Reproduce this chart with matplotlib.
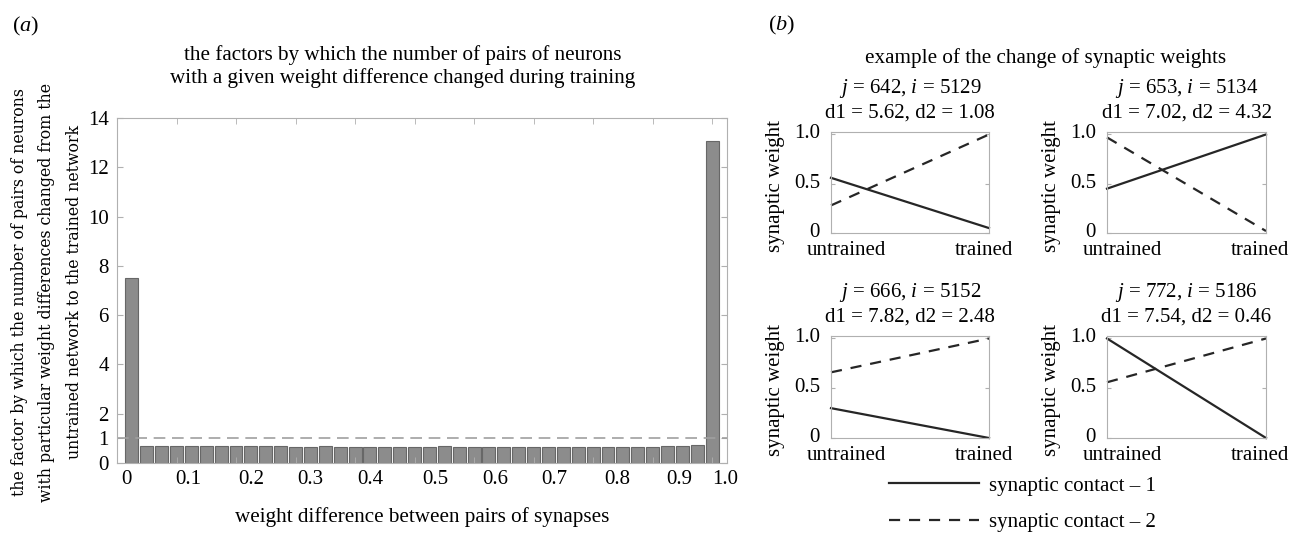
import numpy as np
import matplotlib.pyplot as plt
import matplotlib.transforms as mtransforms

plt.rcParams['font.family'] = 'Liberation Serif'
plt.rcParams['mathtext.fontset'] = 'custom'
plt.rcParams['mathtext.rm'] = 'Liberation Serif'
plt.rcParams['mathtext.it'] = 'Liberation Serif:italic'

# (a) factor per weight-difference bin (40 bins)
bin_idx = np.arange(1, 41)
factor = [7.5,
          0.71, 0.68, 0.68, 0.67, 0.67, 0.67, 0.67, 0.67, 0.67, 0.67,
          0.66, 0.66, 0.67, 0.66, 0.66, 0.65, 0.66, 0.64, 0.66, 0.65,
          0.67, 0.66, 0.66, 0.65, 0.66, 0.65, 0.66, 0.64, 0.65, 0.65,
          0.65, 0.64, 0.65, 0.65, 0.66, 0.68, 0.69, 0.73,
          13.05]
yticks_a = [0, 1, 2, 4, 6, 8, 10, 12, 14]
xlab_pos = [0.66, 4.8, 9.0, 13.0, 17.0, 21.4, 25.4, 29.4, 33.6, 37.8, 40.9]
xlab_txt = ['0', '0.1', '0.2', '0.3', '0.4', '0.5', '0.6', '0.7', '0.8', '0.9', '1.0']

# (b) example weights: untrained -> trained
stages = [0, 1]
examples = [
    (r'$j$ = 642, $i$ = 5129', 'd1 = 5.62, d2 = 1.08', [0.56, 0.05], [0.28, 1.0]),
    (r'$j$ = 653, $i$ = 5134', 'd1 = 7.02, d2 = 4.32', [0.45, 1.0], [0.97, 0.02]),
    (r'$j$ = 666, $i$ = 5152', 'd1 = 7.82, d2 = 2.48', [0.30, 0.0], [0.66, 1.0]),
    (r'$j$ = 772, $i$ = 5186', 'd1 = 7.54, d2 = 0.46', [1.0, 0.0], [0.56, 1.0]),
]

W, H = 1294, 533
fig = plt.figure(figsize=(W / 100, H / 100), dpi=100)


def box(x0, y0, x1, y1):
    # pixel box -> figure fraction
    return [x0 / W, 1 - y1 / H, (x1 - x0) / W, (y1 - y0) / H]


spine_col = '#b0b0b0'
line_col = '#262626'

# ---- panel (a)
ax = fig.add_axes(box(117, 118, 727, 463))
ax.bar(bin_idx, factor, width=0.87, color='#8c8c8c', edgecolor='#676767', linewidth=0.8)
ax.axhline(1, color='#a0a0a0', lw=1.2, dashes=(7, 4))
ax.set_xlim(0, 41)
ax.set_ylim(0, 14)
ax.set_yticks(yticks_a)
ax.set_xticks(xlab_pos, xlab_txt)
ax.set_xticks(np.arange(4, 41, 4), minor=True)
ax.tick_params(axis='x', which='major', length=0, pad=5, labelsize=15)
ax.tick_params(axis='x', which='minor', direction='in', top=True, bottom=True, length=4, color=spine_col)
ax.tick_params(axis='y', direction='in', left=True, right=True, length=4, color=spine_col, pad=6, labelsize=15)
for s in ax.spines.values():
    s.set_color(spine_col)

fig.text(12 / W, 1 - 26 / H, r'($a$)', fontsize=16, ha='left', va='center')
fig.text(403 / W, 1 - 55 / H, 'the factors by which the number of pairs of neurons',
         fontsize=15.2, ha='center', va='center')
fig.text(403 / W, 1 - 78 / H, 'with a given weight difference changed during training',
         fontsize=15.2, ha='center', va='center')
fig.text(422 / W, 1 - 517 / H, 'weight difference between pairs of synapses',
         fontsize=15.2, ha='center', va='center')
fig.text(47 / W, 1 - 292 / H,
         'the factor by which the number of pairs of neurons\n'
         'with particular weight differences changed from the\n'
         'untrained network to the trained network',
         family='DejaVu Serif', fontsize=11.3, rotation=90, ha='center', va='center',
         multialignment='center', linespacing=1.8)

# ---- panel (b)
fig.text(768 / W, 1 - 25 / H, r'($b$)', fontsize=16, ha='left', va='center')
fig.text(1046 / W, 1 - 58 / H, 'example of the change of synaptic weights',
         fontsize=15.2, ha='center', va='center')

cols = [(831, 989), (1107, 1266)]
rows = [(132, 233), (336, 438)]
lift = mtransforms.ScaledTranslation(0, 3 / 100, fig.dpi_scale_trans)
handles = []
for k, (t1, t2, w1, w2) in enumerate(examples):
    x0, x1 = cols[k % 2]
    y0, y1 = rows[k // 2]
    sa = fig.add_axes(box(x0, y0, x1, y1))
    h1, = sa.plot(stages, w1, color=line_col, lw=1.6, clip_on=False)
    h2, = sa.plot(stages, w2, color=line_col, lw=1.6, dashes=(5, 4), clip_on=False)
    handles = [h1, h2]
    sa.set_xlim(0, 1)
    sa.set_ylim(0, 1.025)
    sa.set_yticks([0, 0.5, 1.0], ['0', '0.5', '1.0'])
    sa.set_xticks([0.1, 0.965], ['untrained', 'trained'])
    sa.tick_params(axis='x', length=0, pad=6, labelsize=15)
    sa.tick_params(axis='y', direction='in', left=True, right=True, length=3,
                   color=spine_col, pad=8, labelsize=15)
    for lab in sa.get_yticklabels():
        lab.set_transform(lab.get_transform() + lift)
    for s in sa.spines.values():
        s.set_color(spine_col)
    sa.set_ylabel('synaptic weight', fontsize=15)
    sa.yaxis.set_label_coords(-0.29, 0.47)
    cx = (x0 + x1) / 2
    fig.text(cx / W, 1 - (y0 - 43) / H, t1, fontsize=15, ha='center', va='center')
    fig.text(cx / W, 1 - (y0 - 19) / H, t2, fontsize=15, ha='center', va='center')

fig.legend(handles, ['synaptic contact \u2013 1', 'synaptic contact \u2013 2'],
           loc='upper left', bbox_to_anchor=(889 / W, 1 - 476 / H), frameon=False,
           borderpad=0, borderaxespad=0, handlelength=4.3, handletextpad=0.5,
           labelspacing=0.8, fontsize=15)

fig.savefig('out.png', dpi=100)
